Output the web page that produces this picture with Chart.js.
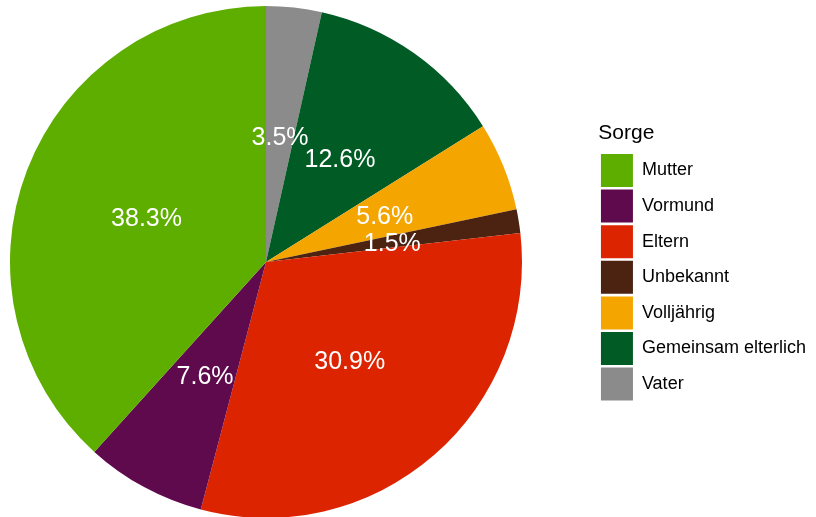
<!DOCTYPE html>
<html>
<head>
<meta charset="utf-8">
<script src="https://cdn.jsdelivr.net/npm/chart.js@4"></script>
<style>
  html, body { margin: 0; padding: 0; background: #fff; }
  #wrap { width: 816px; height: 517px; }
</style>
</head>
<body>
<div id="wrap"><canvas id="myChart" width="816" height="517"></canvas></div>
<script>
// slices in drawing order, clockwise from 12 o'clock
var categories = ["Vater", "Gemeinsam elterlich", "Volljährig", "Unbekannt", "Eltern", "Vormund", "Mutter"];
var shares = [3.5, 12.6, 5.6, 1.5, 30.9, 7.6, 38.3];
var colors = ["#8b8b8b", "#005b24", "#f5a500", "#4b2310", "#dc2400", "#5f0a4d", "#5eae00"];
var legendTitle = "Sorge";

// the pie sits left of the middle of the free space, so pin its area
var pieArea = {
    id: 'pieArea',
    afterLayout: function(chart) {
        var a = chart.chartArea;
        a.left = 10;
        a.right = 522;
        a.top = 6;
        a.bottom = 518;
        a.width = a.right - a.left;
        a.height = a.bottom - a.top;
    }
};

// white percentage labels in the middle of each slice
var sliceLabels = {
    id: 'sliceLabels',
    afterDatasetsDraw: function(chart) {
        var ctx = chart.ctx;
        var meta = chart.getDatasetMeta(0);
        ctx.save();
        ctx.fillStyle = '#ffffff';
        ctx.font = '25px "Liberation Sans", Arial, sans-serif';
        ctx.textAlign = 'center';
        ctx.textBaseline = 'middle';
        meta.data.forEach(function(arc, i) {
            var pos = arc.tooltipPosition();
            ctx.fillText(shares[i].toFixed(1) + '%', pos.x, pos.y + 3);
        });
        ctx.restore();
    }
};

document.addEventListener('DOMContentLoaded', function() {
    var ctx = document.getElementById('myChart').getContext('2d');
    new Chart(ctx, {
        type: 'pie',
        data: {
            labels: categories,
            datasets: [{
                data: shares,
                backgroundColor: colors,
                borderWidth: 0
            }]
        },
        options: {
            responsive: false,
            animation: false,
            layout: { padding: { top: 5 } },
            plugins: {
                tooltip: { enabled: false },
                legend: {
                    position: 'right',
                    reverse: true,
                    title: {
                        display: true,
                        text: legendTitle,
                        position: 'start',
                        color: '#000',
                        font: { family: '"Liberation Sans", Arial, sans-serif', size: 21 },
                        padding: { top: 3.7, bottom: 3.7 }
                    },
                    labels: {
                        boxWidth: 32,
                        boxHeight: 33,
                        padding: 2.6,
                        color: '#000',
                        font: { family: '"Liberation Sans", Arial, sans-serif', size: 18 }
                    }
                }
            }
        },
        plugins: [pieArea, sliceLabels]
    });
});
</script>
</body>
</html>
